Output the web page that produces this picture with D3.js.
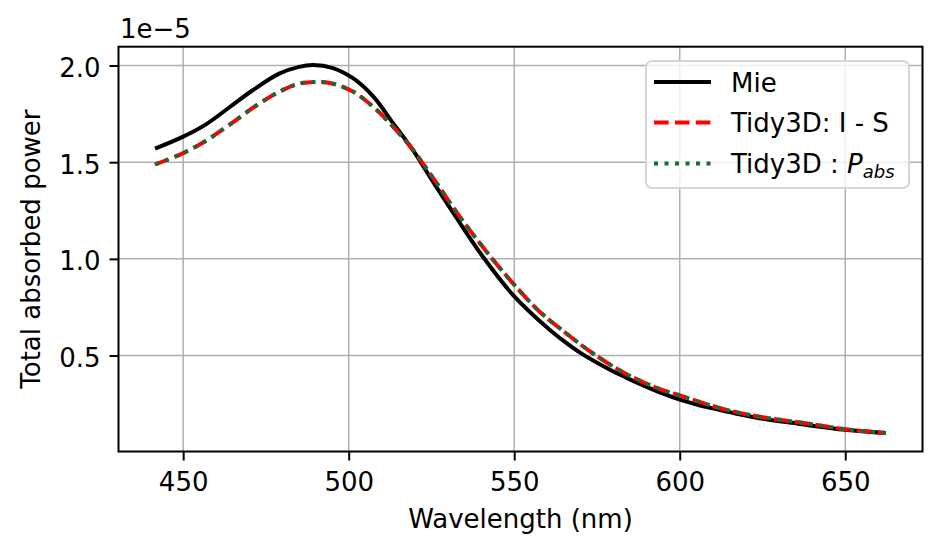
<!DOCTYPE html>
<meta charset="utf-8">
<style>
  body { margin: 0; background: #fff; }
  svg text { font-family: "DejaVu Sans", sans-serif; font-size: 26px; fill: #000; }
  .grid line { stroke: #b0b0b0; stroke-width: 1.5px; }
</style>
<svg width="942" height="555"></svg>
<script src="https://d3js.org/d3.v7.min.js"></script>
<script>

// values (y in units of 1e-5)
var mieWl  = [441.5, 450, 457, 464, 471, 479, 485, 489.3, 495, 501.4, 507.4, 513.4, 519.4, 525.5, 532.5, 540.5, 549.6, 560.7, 564, 570, 578.8, 583.8, 588.8, 594.8, 599.8, 605.9, 611.9, 618, 624, 634, 638, 650, 662.3];
var mieVal = [1.570, 1.632, 1.697, 1.784, 1.872, 1.958, 1.993, 2.002, 1.988, 1.933, 1.840, 1.702, 1.562, 1.398, 1.214, 1.012, 0.814, 0.633, 0.588, 0.514, 0.428, 0.386, 0.347, 0.304, 0.273, 0.243, 0.219, 0.196, 0.176, 0.152, 0.142, 0.116, 0.099];

var tidyWl  = [441.5, 450, 457, 465, 472, 479, 485, 490.5, 495, 501.4, 507.4, 513.4, 519.4, 525.5, 533.5, 541.6, 549.6, 557.6, 564, 573.7, 583.8, 593.8, 600, 603.9, 613.9, 624, 638, 650, 662.3];
var tidyIS  = [1.488, 1.547, 1.612, 1.706, 1.792, 1.864, 1.906, 1.915, 1.907, 1.864, 1.786, 1.684, 1.564, 1.418, 1.219, 1.038, 0.874, 0.728, 0.638, 0.512, 0.405, 0.328, 0.294, 0.272, 0.220, 0.184, 0.150, 0.119, 0.099];
var tidyPabs = [1.488, 1.547, 1.612, 1.706, 1.792, 1.864, 1.906, 1.915, 1.907, 1.864, 1.786, 1.684, 1.564, 1.418, 1.219, 1.038, 0.874, 0.728, 0.638, 0.512, 0.405, 0.328, 0.294, 0.272, 0.220, 0.184, 0.150, 0.119, 0.099];

var xTicks = [450, 500, 550, 600, 650];
var yTicks = [0.5, 1.0, 1.5, 2.0];
var legendLabels = ["Mie", "Tidy3D: I - S", "Tidy3D : "];

var svg = d3.select("svg"),
    margin = {left: 118.5, right: 19.5, top: 46.7, bottom: 103.5},
    width = +svg.attr("width"),
    height = +svg.attr("height"),
    x0 = margin.left, x1 = width - margin.right,
    y0 = height - margin.bottom, y1 = margin.top;

// matplotlib style 5% padding round the data
function padded(ext) {
  var r = ext[1] - ext[0];
  return [ext[0] - 0.05 * r, ext[1] + 0.05 * r];
}

var x = d3.scaleLinear()
    .domain(padded(d3.extent(mieWl.concat(tidyWl))))
    .range([x0, x1]);

var y = d3.scaleLinear()
    .domain(padded(d3.extent(mieVal.concat(tidyIS, tidyPabs))))
    .range([y0, y1]);

// grid
var grid = svg.append("g").attr("class", "grid");
grid.selectAll(".gx").data(xTicks).enter().append("line")
    .attr("x1", d => x(d)).attr("x2", d => x(d))
    .attr("y1", y0).attr("y2", y1);
grid.selectAll(".gy").data(yTicks).enter().append("line")
    .attr("x1", x0).attr("x2", x1)
    .attr("y1", d => y(d)).attr("y2", d => y(d));

// curves
var line = d3.line()
    .x(d => x(d[0]))
    .y(d => y(d[1]))
    .curve(d3.curveCatmullRom.alpha(0.5));

var plot = svg.append("g");

plot.append("path")
    .attr("d", line(d3.zip(mieWl, mieVal)))
    .attr("fill", "none")
    .attr("stroke", "#000")
    .attr("stroke-width", 4);

plot.append("path")
    .attr("d", line(d3.zip(tidyWl, tidyIS)))
    .attr("fill", "none")
    .attr("stroke", "#ff0000")
    .attr("stroke-width", 4)
    .attr("stroke-dasharray", "14.6,6.3");

plot.append("path")
    .attr("d", line(d3.zip(tidyWl, tidyPabs)))
    .attr("fill", "none")
    .attr("stroke", "#176b35")
    .attr("stroke-width", 4)
    .attr("stroke-dasharray", "4,6.5");

// axes
var xAxis = svg.append("g")
    .attr("transform", "translate(0," + y0 + ")")
    .call(d3.axisBottom(x).tickValues(xTicks).tickSize(9).tickPadding(9).tickFormat(d3.format("d")));

var yAxis = svg.append("g")
    .attr("transform", "translate(" + x0 + ",0)")
    .call(d3.axisLeft(y).tickValues(yTicks).tickSize(9).tickPadding(9).tickFormat(d3.format(".1f")));

[xAxis, yAxis].forEach(function(a) {
  a.select(".domain").remove();
  a.selectAll(".tick line").attr("stroke", "#000").attr("stroke-width", 2);
  a.selectAll(".tick text").attr("font-family", null).attr("font-size", null);
});
xAxis.selectAll(".tick text").attr("dy", null).attr("y", 39);
yAxis.selectAll(".tick text").attr("dy", null).attr("y", 11);

// frame
svg.append("rect")
    .attr("x", x0).attr("y", y1)
    .attr("width", x1 - x0).attr("height", y0 - y1)
    .attr("fill", "none")
    .attr("stroke", "#000")
    .attr("stroke-width", 2);

// labels
svg.append("text")
    .attr("x", (x0 + x1) / 2).attr("y", 528)
    .attr("text-anchor", "middle")
    .text("Wavelength (nm)");

svg.append("text")
    .attr("transform", "translate(40," + (y0 + y1) / 2 + ") rotate(-90)")
    .attr("text-anchor", "middle")
    .text("Total absorbed power");

svg.append("text")
    .attr("x", 120).attr("y", 38)
    .text("1e\u22125");

// legend
var leg = svg.append("g");
leg.append("rect")
    .attr("x", 646).attr("y", 61)
    .attr("width", 263).attr("height", 127)
    .attr("rx", 6)
    .attr("fill", "#fff").attr("fill-opacity", 0.8)
    .attr("stroke", "#d6d6d6").attr("stroke-width", 2);

var legStyles = [
  {stroke: "#000", dash: null},
  {stroke: "#ff0000", dash: "14.6,6.3"},
  {stroke: "#176b35", dash: "4,6.5"}
];
var legY = [82, 122.5, 163.5];

legendLabels.forEach(function(lbl, i) {
  leg.append("line")
      .attr("x1", 654).attr("x2", 711)
      .attr("y1", legY[i]).attr("y2", legY[i])
      .attr("stroke", legStyles[i].stroke)
      .attr("stroke-width", 4)
      .attr("stroke-dasharray", legStyles[i].dash);
  var t = leg.append("text")
      .attr("x", 731).attr("y", legY[i] + 9.5)
      .text(lbl);
  if (i == 2) {
    t.append("tspan").attr("font-style", "italic").text("P");
    t.append("tspan").attr("font-style", "italic").attr("font-size", "18px").attr("dy", 5).text("abs");
  }
});

</script>
